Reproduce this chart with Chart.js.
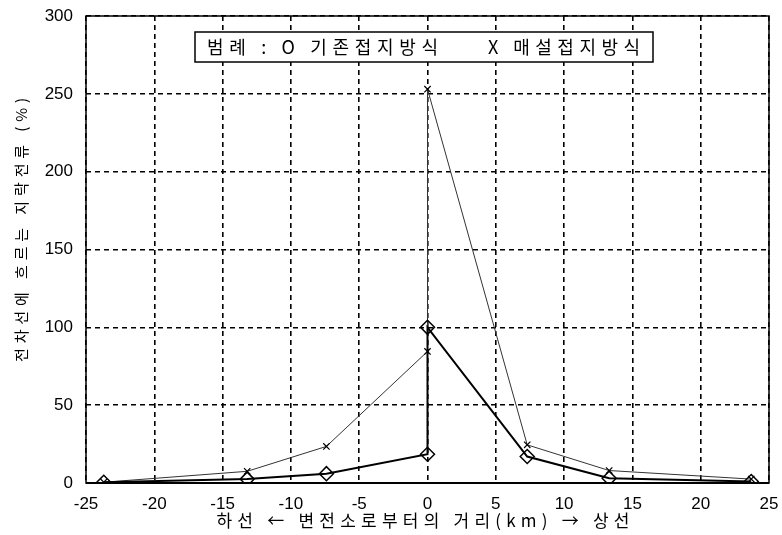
<!DOCTYPE html>
<html>
<head>
<meta charset="utf-8">
<script src="https://cdn.jsdelivr.net/npm/chart.js@4"></script>
<style>
  html, body { margin: 0; padding: 0; background: #fff; }
</style>
</head>
<body>
<canvas id="chart" width="782" height="535"></canvas>
<script>
// distance from substation (km), two points share x = 0
const distKm = [-23.7, -13.2, -7.4, 0, 0, 7.3, 13.3, 23.7];
const existingPct = [0.5, 2.5, 6, 18.5, 100, 17, 3, 1];
const buriedPct = [0.5, 7.5, 23.5, 84.5, 253, 24.5, 8, 2.5];

const xTitle = '하선 ← 변전소로부터의 거리(km) → 상선';
const yTitle = '전차선에 흐르는 지락전류 (%)';
const legendLeft = '범례 : O 기존접지방식';
const legendRight = 'X 매설접지방식';

const KFONT = '"Noto Sans CJK KR", "Noto Sans", sans-serif';
const NFONT = '"Liberation Sans", Arial, sans-serif';

function toPoints(xs, ys) {
    return xs.map((x, i) => ({ x: x, y: ys[i] }));
}

// draw text stretched to a target width by letter spacing
function spacedText(ctx, text, x, y, width, align) {
    ctx.letterSpacing = '0px';
    const w = ctx.measureText(text).width;
    const n = [...text].length;
    const sp = Math.max(0, (width - w) / (n - 1));
    ctx.letterSpacing = sp + 'px';
    ctx.textAlign = 'left';
    let x0 = x;
    if (align === 'center') x0 = x - width / 2;
    ctx.fillText(text, x0, y);
    ctx.letterSpacing = '0px';
}

const decorations = {
    id: 'decorations',
    beforeDatasetsDraw(chart) {
        const { ctx, chartArea: a } = chart;
        ctx.save();
        ctx.strokeStyle = '#000';
        ctx.lineWidth = 1.5;
        ctx.setLineDash([]);
        ctx.strokeRect(a.left, a.top, a.right - a.left, a.bottom - a.top);
        ctx.lineWidth = 2;
        ctx.beginPath();
        ctx.moveTo(a.left, a.bottom);
        ctx.lineTo(a.right, a.bottom);
        ctx.stroke();
        ctx.restore();
    },
    afterDraw(chart) {
        const ctx = chart.ctx;
        ctx.save();
        ctx.fillStyle = '#000';
        ctx.textBaseline = 'middle';

        // x axis title
        ctx.font = '17px ' + KFONT;
        spacedText(ctx, xTitle, 423, 521, 413, 'center');

        // y axis title
        ctx.save();
        ctx.translate(21, 230);
        ctx.rotate(-Math.PI / 2);
        ctx.font = '15px ' + KFONT;
        spacedText(ctx, yTitle, 0, 0, 264, 'center');
        ctx.restore();

        // legend box
        ctx.fillStyle = '#fff';
        ctx.fillRect(195, 32, 458, 30);
        ctx.strokeStyle = '#000';
        ctx.lineWidth = 1.5;
        ctx.strokeRect(195, 32, 458, 30);
        ctx.fillStyle = '#000';
        ctx.font = '18px ' + KFONT;
        spacedText(ctx, legendLeft, 207, 47, 231, 'left');
        spacedText(ctx, legendRight, 488, 47, 152, 'left');
        ctx.restore();
    }
};

const gridStyle = {
    color: '#000',
    lineWidth: 1.6,
    drawTicks: false
};

new Chart(document.getElementById('chart'), {
    type: 'scatter',
    data: {
        datasets: [{
            label: '기존접지방식',
            data: toPoints(distKm, existingPct),
            showLine: true,
            borderColor: '#000',
            borderWidth: 2,
            pointStyle: 'rectRot',
            pointRadius: 7,
            pointBorderWidth: 1.5,
            pointBorderColor: '#000',
            pointBackgroundColor: 'rgba(0,0,0,0)'
        }, {
            label: '매설접지방식',
            data: toPoints(distKm, buriedPct),
            showLine: true,
            borderColor: '#333',
            borderWidth: 1,
            pointStyle: 'crossRot',
            pointRadius: 4.5,
            pointBorderWidth: 1.2,
            pointBorderColor: '#000'
        }]
    },
    options: {
        responsive: false,
        animation: false,
        maintainAspectRatio: false,
        layout: { padding: { top: 16, right: 13, left: 0, bottom: 0 } },
        plugins: {
            legend: { display: false },
            tooltip: { enabled: false }
        },
        scales: {
            x: {
                type: 'linear',
                min: -25,
                max: 25,
                afterFit(s) {
                    s.height = 52;
                    s.paddingLeft = 0;
                    s.paddingRight = 0;
                },
                ticks: {
                    stepSize: 5,
                    padding: 11,
                    maxRotation: 0,
                    autoSkip: false,
                    color: '#000',
                    font: { family: NFONT, size: 17 }
                },
                grid: gridStyle,
                border: { display: false, dash: [5, 4] }
            },
            y: {
                min: 0,
                max: 300,
                afterFit(s) {
                    s.width = 86;
                    s.paddingTop = 0;
                    s.paddingBottom = 0;
                },
                ticks: {
                    stepSize: 50,
                    padding: 13,
                    autoSkip: false,
                    color: '#000',
                    font: { family: NFONT, size: 17 }
                },
                grid: gridStyle,
                border: { display: false, dash: [5, 4] }
            }
        }
    },
    plugins: [decorations]
});
</script>
</body>
</html>
